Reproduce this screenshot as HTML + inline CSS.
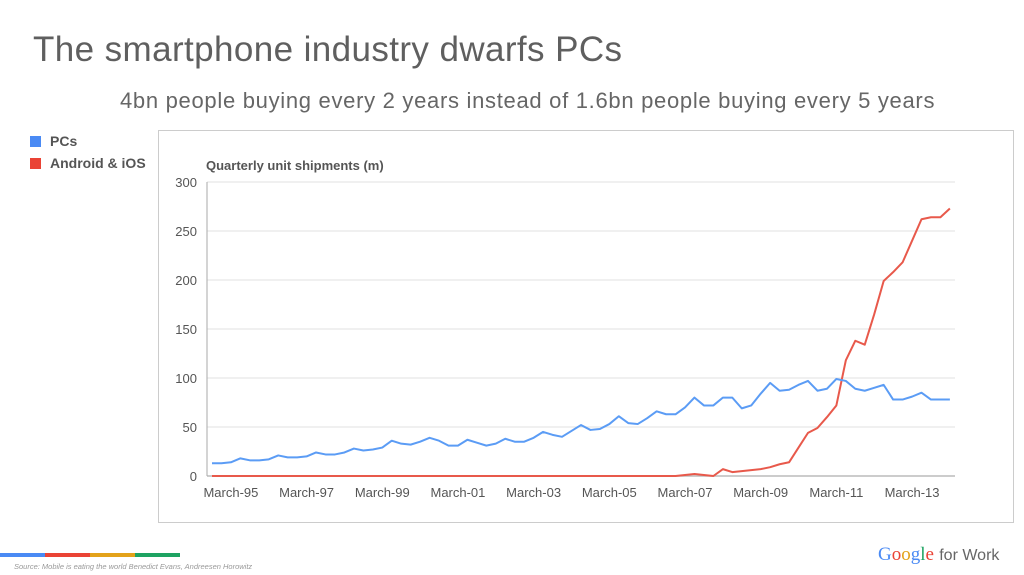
<!DOCTYPE html>
<html><head><meta charset="utf-8"><style>
body{margin:0;width:1024px;height:575px;background:#fff;font-family:"Liberation Sans",sans-serif;position:relative;overflow:hidden}
.abs{position:absolute}
</style></head><body>
<div class="abs" style="left:33px;top:30px;font-size:35px;letter-spacing:0.4px;color:#5f5f5f">The smartphone industry dwarfs PCs</div>
<div class="abs" style="left:120px;top:88px;font-size:22px;letter-spacing:0.7px;color:#666">4bn people buying every 2 years instead of 1.6bn people buying every 5 years</div>
<div class="abs" style="left:30px;top:133px;font-size:14px;font-weight:bold;color:#555"><span style="display:inline-block;width:11px;height:11px;background:#4a8af4;vertical-align:-1px;margin-right:9px"></span>PCs</div>
<div class="abs" style="left:30px;top:155px;font-size:14px;font-weight:bold;color:#555"><span style="display:inline-block;width:11px;height:11px;background:#ea4335;vertical-align:-1px;margin-right:9px"></span>Android &amp; iOS</div>
<div class="abs" style="left:158px;top:130px;width:854px;height:391px;border:1px solid #ccc"></div>
<svg class="abs" style="left:0;top:0" width="1024" height="575">
<text x="206" y="170" font-size="13" font-weight="bold" fill="#555">Quarterly unit shipments (m)</text>
<g id="grid"></g><g id="lines"></g>
</svg>
<div class="abs" style="left:0;top:553px;height:4px;width:180px;display:flex"><div style="flex:1;background:#4a8af4"></div><div style="flex:1;background:#ea4335"></div><div style="flex:1;background:#e3a21a"></div><div style="flex:1;background:#1ea362"></div></div>
<div class="abs" style="left:14px;top:562px;font-size:7.5px;font-style:italic;color:#999">Source: Mobile is eating the world Benedict Evans, Andreesen Horowitz</div>
<div class="abs" style="left:878px;top:544px;font-size:19px;color:#666"><span style="font-family:'Liberation Serif',serif"><span style="color:#4a8af4">G</span><span style="color:#ea4335">o</span><span style="color:#e3a21a">o</span><span style="color:#4a8af4">g</span><span style="color:#1ea362">l</span><span style="color:#ea4335">e</span></span> <span style="font-size:16px">for Work</span></div>
<script>
const yTicks=[0,50,100,150,200,250,300];
const xLabels=["March-95","March-97","March-99","March-01","March-03","March-05","March-07","March-09","March-11","March-13"];
const pcs=[13,13,14,18,16,16,17,21,19,19,20,24,22,22,24,28,26,27,29,36,33,32,35,39,36,31,31,37,34,31,33,38,35,35,39,45,42,40,46,52,47,48,53,61,54,53,59,66,63,63,70,80,72,72,80,80,69,72,84,95,87,88,93,97,87,89,99,97,89,87,90,93,78,78,81,85,78,78,78];
const mobile=[0,0,0,0,0,0,0,0,0,0,0,0,0,0,0,0,0,0,0,0,0,0,0,0,0,0,0,0,0,0,0,0,0,0,0,0,0,0,0,0,0,0,0,0,0,0,0,0,0,0,1,2,1,0,7,4,5,6,7,9,12,14,29,44,49,60,72,118,138,134,165,199,208,218,240,262,264,264,273];
const NS="http://www.w3.org/2000/svg";
const x0=212,dx=9.46,yB=476,ky=0.98;
const X=i=>x0+i*dx, Y=v=>yB-v*ky;
const grid=document.getElementById('grid'),lines=document.getElementById('lines');
function mk(tag,attrs,parent){const e=document.createElementNS(NS,tag);for(const k in attrs)e.setAttribute(k,attrs[k]);parent.appendChild(e);return e;}
yTicks.forEach(t=>{
 const l=mk('line',{x1:207,x2:955,y1:Y(t),y2:Y(t),stroke:t===0?'#bbb':'#e6e6e6','stroke-width':t===0?1.5:1.2},grid);
 
 
 const tx=mk('text',{x:197,y:Y(t)+5,'font-size':13,fill:'#555','text-anchor':'end'},grid);
 tx.textContent=t;
 
 
});
const ax=mk('line',{x1:207,x2:207,y1:Y(0),y2:Y(300),stroke:'#aaa','stroke-width':1},grid);


xLabels.forEach((s,k)=>{
 const tx=mk('text',{x:X(2+8*k),y:497,'font-size':13,fill:'#555','text-anchor':'middle'},grid);
 tx.textContent=s;
 
 
});
function series(arr,col,name){
 const p=mk('polyline',{points:arr.map((v,i)=>X(i)+','+Y(v)).join(' '),fill:'none',stroke:col,'stroke-width':2,'stroke-linejoin':'round'},lines);
 
 
}
series(mobile,'#e8594b','line-android-ios');
series(pcs,'#5b9cf5','line-pcs');
</script>
</body></html>
